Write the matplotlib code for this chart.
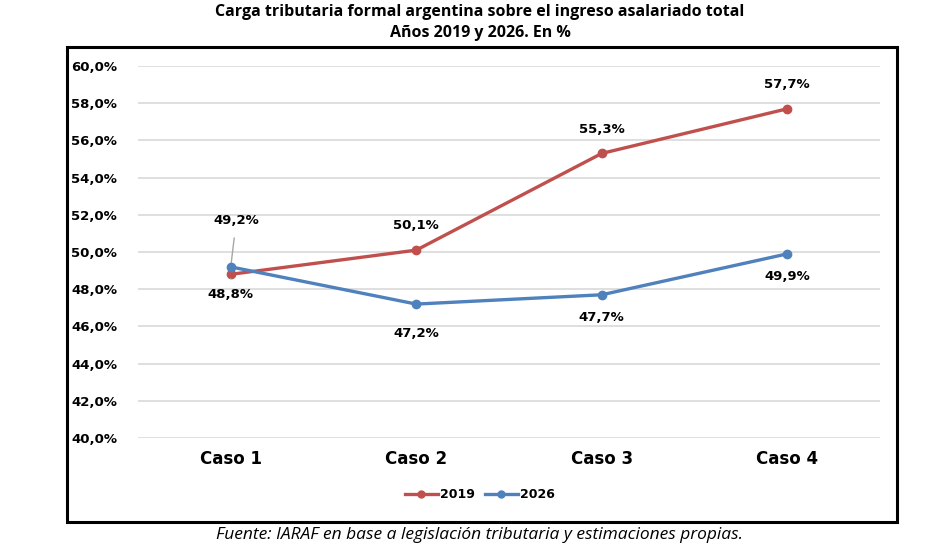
import matplotlib
matplotlib.use("Agg")
import matplotlib.pyplot as plt
from matplotlib.patches import Rectangle
from matplotlib.lines import Line2D

# ---------------- data ----------------
categories = ["Caso 1", "Caso 2", "Caso 3", "Caso 4"]
vals_2019 = [48.8, 50.1, 55.3, 57.7]
vals_2026 = [49.2, 47.2, 47.7, 49.9]
yticks = [40, 42, 44, 46, 48, 50, 52, 54, 56, 58, 60]

RED = "#C0504D"
BLUE = "#4F81BD"
W, H = 947, 547


def fmt(v):
    return f"{v:.1f}%".replace(".", ",")


fig = plt.figure(figsize=(W / 100, H / 100), dpi=100)

# plot area in pixel coords of the reference
x0, x1, ytop, ybot = 138, 880, 66, 438
ax = fig.add_axes([x0 / W, 1 - ybot / H, (x1 - x0) / W, (ybot - ytop) / H])

xs = list(range(len(categories)))
ax.plot(xs, vals_2019, color=RED, lw=2.4, marker="o", ms=6, zorder=3)
ax.plot(xs, vals_2026, color=BLUE, lw=2.4, marker="o", ms=6, zorder=4)

ax.set_xlim(-0.5, 3.5)
ax.set_ylim(40, 60)
ax.set_yticks(yticks)
ax.set_yticklabels([fmt(v) for v in yticks], fontsize=9.5, fontweight="bold",
                   family="DejaVu Sans")
ax.set_xticks(xs)
ax.set_xticklabels(categories, fontsize=12, fontweight="bold", family="DejaVu Sans")
ax.tick_params(axis="both", length=0)
ax.tick_params(axis="y", pad=15)
ax.tick_params(axis="x", pad=9)
ax.grid(axis="y", color="#D9D9D9", lw=1.2)
ax.set_axisbelow(True)
for s in ax.spines.values():
    s.set_visible(False)

lab_kw = dict(ha="center", va="center", fontsize=9.5, fontweight="bold", family="DejaVu Sans")

# Caso 1 labels with leader lines
ax.annotate(fmt(vals_2026[0]), xy=(0, vals_2026[0]), xytext=(0.03, 51.7),
            arrowprops=dict(arrowstyle="-", color="#A6A6A6", lw=1, shrinkA=6, shrinkB=3), **lab_kw)
ax.annotate(fmt(vals_2019[0]), xy=(0, vals_2019[0]), xytext=(0.0, 47.7),
            arrowprops=dict(arrowstyle="-", color="#A6A6A6", lw=1, shrinkA=5, shrinkB=3), **lab_kw)

# remaining labels
ax.text(1, vals_2019[1] + 1.3, fmt(vals_2019[1]), **lab_kw)
ax.text(2, vals_2019[2] + 1.3, fmt(vals_2019[2]), **lab_kw)
ax.text(3, vals_2019[3] + 1.3, fmt(vals_2019[3]), **lab_kw)
ax.text(1, vals_2026[1] - 1.6, fmt(vals_2026[1]), **lab_kw)
ax.text(2, vals_2026[2] - 1.2, fmt(vals_2026[2]), **lab_kw)
ax.text(3, vals_2026[3] - 1.2, fmt(vals_2026[3]), **lab_kw)

# legend
handles = [Line2D([], [], color=RED, lw=2.4, marker="o", ms=5),
           Line2D([], [], color=BLUE, lw=2.4, marker="o", ms=5)]
fig.legend(handles, ["2019", "2026"], loc="center", bbox_to_anchor=(480 / W, 1 - 495 / H),
           ncol=2, frameon=False, handlelength=2.6, handletextpad=0.2, columnspacing=0.8,
           prop=dict(size=9, weight="bold", family="DejaVu Sans"))

# outer black frame
fig.patches.append(Rectangle((67 / W, 1 - 522 / H), (897 - 67) / W, (522 - 47) / H,
                             transform=fig.transFigure, fill=False, ec="black", lw=2.2))

# title and source
fig.text(480 / W, 1 - 12 / H, "Carga tributaria formal argentina sobre el ingreso asalariado total",
         ha="center", va="center", fontsize=11.5, fontweight="bold", family="Open Sans")
fig.text(480 / W, 1 - 33 / H, "Años 2019 y 2026. En %",
         ha="center", va="center", fontsize=11.5, fontweight="bold", family="Open Sans")
fig.text(480 / W, 1 - 535 / H,
         "Fuente: IARAF en base a legislación tributaria y estimaciones propias.",
         ha="center", va="center", fontsize=12.5, style="italic", family="Open Sans")

fig.savefig("out.png", dpi=100)
